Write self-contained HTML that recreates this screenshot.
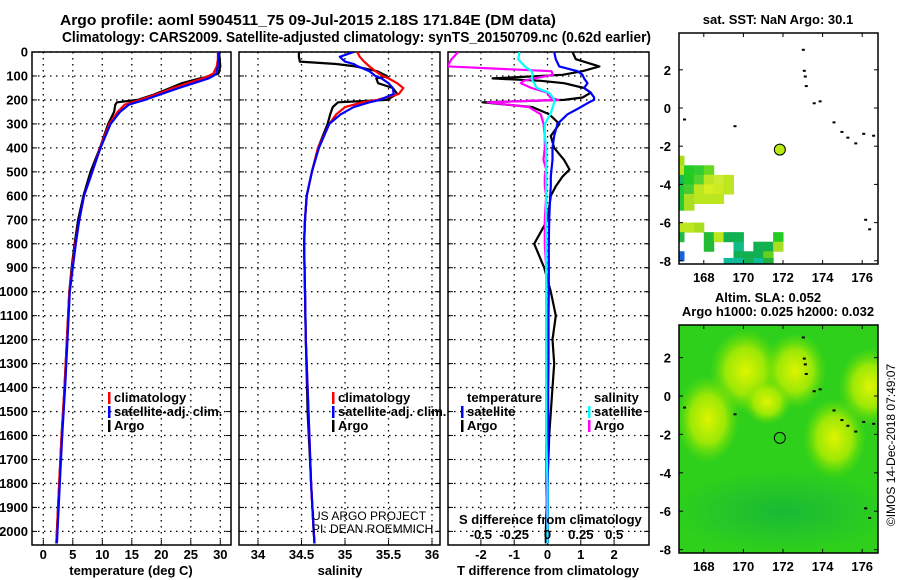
<!DOCTYPE html>
<html><head><meta charset="utf-8"><style>
body{margin:0;background:#fff}
svg{display:block;font-family:"Liberation Sans",sans-serif}
.b{font-weight:bold;font-size:13px}
.n{font-weight:normal;font-size:12px}
</style></head><body>
<svg id="s" width="900" height="580" viewBox="0 0 900 580">
<defs>
<clipPath id="c1"><rect x="32" y="52" width="199" height="493"/></clipPath>
<clipPath id="c2"><rect x="239" y="52" width="201" height="493"/></clipPath>
<clipPath id="c3"><rect x="448" y="52" width="201" height="493"/></clipPath>
<clipPath id="cm1"><rect x="679" y="33" width="199" height="231"/></clipPath>
<clipPath id="cm2"><rect x="679" y="325" width="199" height="228"/></clipPath>
<radialGradient id="blob"><stop offset="0" stop-color="#e0f400" stop-opacity="1"/><stop offset="0.55" stop-color="#b8ee00" stop-opacity="0.8"/><stop offset="1" stop-color="#70e000" stop-opacity="0"/></radialGradient>
<radialGradient id="dark"><stop offset="0" stop-color="#10b040" stop-opacity="0.7"/><stop offset="1" stop-color="#10b040" stop-opacity="0"/></radialGradient>
</defs>
<text class="b" x="60" y="25" style="font-size:15px" textLength="496" lengthAdjust="spacingAndGlyphs">Argo profile: aoml 5904511_75 09-Jul-2015 2.18S 171.84E (DM data)</text>
<text class="b" x="62" y="42" style="font-size:15px" textLength="589" lengthAdjust="spacingAndGlyphs">Climatology: CARS2009. Satellite-adjusted climatology: synTS_20150709.nc (0.62d earlier)</text>
<g id="g"></g>
</svg>
<script>
// ---- data ----
const depthT = [0,30,60,90,100,110,130,150,180,200,210,220,250,300,400,500,600,700,800,900,1000,1200,1400,1600,1800,2000,2050];
const tempArgo = [29.8,29.9,30.0,29.7,28.5,26.5,23.5,21.5,18.5,16,12.5,12.2,12,11,9.6,8.0,6.8,5.9,5.3,4.8,4.4,4.0,3.6,3.1,2.7,2.3,2.2];
const tempClim = [29.6,29.6,29.4,28.8,28.0,27,24.5,22,18.8,16.4,15,13.8,12.6,11.2,9.6,8.3,6.9,6.1,5.4,4.9,4.4,4.0,3.6,3.1,2.7,2.3,2.2];
const tempSat = [29.7,29.7,29.6,29.3,28.8,28,25.5,23,19.5,17.2,15.8,14.5,13,11.4,9.7,8.3,6.9,6.1,5.5,5.0,4.5,4.1,3.7,3.2,2.8,2.4,2.3];
const depthS = [0,20,40,50,60,80,100,110,130,150,175,200,210,230,260,300,400,500,600,700,800,1000,1200,1500,1800,2000,2050];
const salArgo = [34.47,34.47,34.48,34.9,35.12,35.37,35.48,35.36,35.38,35.55,35.6,35.48,34.92,34.86,34.83,34.8,34.69,34.62,34.56,34.54,34.53,34.54,34.55,34.57,34.61,34.64,34.65];
const salClim = [35.14,35.17,35.22,35.25,35.28,35.35,35.43,35.5,35.6,35.67,35.62,35.37,35.2,35.0,34.9,34.82,34.69,34.62,34.56,34.54,34.53,34.54,34.55,34.58,34.61,34.64,34.65];
const salSat = [35.1,34.94,35.0,35.1,35.15,35.28,35.35,35.42,35.5,35.55,35.56,35.4,35.28,35.1,34.95,34.82,34.7,34.62,34.56,34.54,34.53,34.54,34.55,34.58,34.61,34.64,34.65];
const depthD = [0,30,60,80,95,110,120,130,150,170,190,200,210,230,260,300,350,400,450,490,520,560,600,700,800,900,1000,1100,1200,1300,1400,1600,1800,2000,2050];
const dTArgo = [0.75,0.85,1.56,1.05,0.45,-1.65,-0.2,0.5,1.1,1.3,1.05,0.5,-1.95,-0.45,0.05,0.36,0.1,0.2,0.5,0.66,0.45,0.25,0.1,0,-0.4,-0.1,0.1,0.25,0.15,0.2,0.15,0.05,0,-0.05,-0.05];
const dTSat = [0.2,0.25,0.35,0.9,1.05,1.1,1.15,1.2,1.1,1.3,1.4,1.4,1.25,1.0,0.6,0.3,0.2,0.15,0.15,0.12,0.1,0.1,0.08,0.05,0.04,0.04,0.04,0.03,0.03,0.03,0.02,0.02,0.01,0.01,0.01];
const dSArgo = [-0.67,-0.72,-0.75,0.03,0.04,-0.1,-0.18,-0.2,-0.12,0.0,0.02,0.08,-0.45,-0.14,-0.05,-0.03,-0.02,-0.02,-0.03,-0.01,-0.02,-0.02,-0.01,-0.02,-0.02,-0.01,-0.01,-0.01,-0.01,-0.01,-0.01,-0.01,-0.01,0,0];
const dSSat = [-0.21,-0.22,-0.17,-0.12,-0.11,-0.12,-0.11,-0.1,-0.08,0.01,0.04,0.05,0.05,0.04,0.02,-0.02,-0.02,-0.01,-0.01,-0.01,-0.01,-0.01,-0.01,-0.01,-0.01,-0.01,-0.01,-0.01,-0.01,-0.01,-0.01,-0.01,0,0,0];
const depthTicks = [0,100,200,300,400,500,600,700,800,900,1000,1100,1200,1300,1400,1500,1600,1700,1800,1900,2000];
const tempTicks = [0,5,10,15,20,25,30];
const salTicks = [34,34.5,35,35.5,36];
const dTTicks = [-2,-1,0,1,2];
const dSTicks = [-0.5,-0.25,0,0.25,0.5];
const lonTicks = [168,170,172,174,176];
const latTicks = [2,0,-2,-4,-6,-8];
const argoLon = 171.84, argoLat = -2.18;
const sstLon = [166.75,166.75,167.25,167.75,168.25,166.75,167.25,167.75,168.25,168.75,169.25,166.75,167.25,167.75,168.25,168.75,169.25,166.75,167.25,167.75,168.25,168.75,166.75,167.25,166.75,167.25,167.75,166.75,168.25,168.75,169.25,169.75,171.75,168.25,169.75,170.75,171.25,171.75,166.75,169.75,170.25,170.75,171.25,169.25,169.75,170.25,170.75,171.25];
const sstLat = [-2.75,-3.25,-3.25,-3.25,-3.25,-3.75,-3.75,-3.75,-3.75,-3.75,-3.75,-4.25,-4.25,-4.25,-4.25,-4.25,-4.25,-4.75,-4.75,-4.75,-4.75,-4.75,-5.1,-5.1,-6.25,-6.25,-6.25,-6.75,-6.75,-6.75,-6.75,-6.75,-6.75,-7.25,-7.25,-7.25,-7.25,-7.25,-7.75,-7.75,-7.75,-7.75,-7.75,-8.1,-8.1,-8.1,-8.1,-8.1];
const sstCol = ["#aade10","#bde620","#22cc22","#33cc33","#66d820","#18b860","#22cc22","#55d430","#bbe620","#ccea30","#bbe620","#22cc33","#44cc33","#bbe620","#d8ee20","#ccea20","#bbe620","#22cc33","#aade20","#bbe620","#bbe620","#bbe620","#22cc33","#aade20","#bbe620","#bbe620","#aade20","#22bb44","#22bb33","#bbe620","#11b050","#11b050","#22cc22","#22bb33","#11bb88","#11b050","#11b050","#aade20","#1166dd","#11b050","#11b050","#11b050","#66d020","#11bb99","#11bb99","#11b050","#11bb99","#22b040"];
const blobLon = [170.1,168.2,172.6,174.6,176.4,171.2];
const blobLat = [1.3,-1.2,1.3,-2.2,0.5,-0.3];
const blobRx = [1.8,1.6,1.6,1.6,1.6,1.2];
const blobRy = [2.2,2.3,2.0,2.1,2.0,1.2];
const coastLon = [172.95,173.0,173.05,173.1,173.5,173.8,174.5,174.9,175.2,175.6,176.0,176.5,169.5,166.95,176.1,176.3,176.8];
const coastLat = [3.1,2.0,1.7,1.2,0.3,0.4,-0.7,-1.2,-1.5,-1.8,-1.3,-1.4,-0.9,-0.55,-5.8,-6.3,-2.6];

// ---- scales ----
const Y = d => 52 + d*0.2397;
const XT = t => 43.3 + t*5.9;
const XS = s => 258 + (s-34)*87;
const XD = t => 547.5 + t*33.3;
const XDS = s => 547.5 + s*133.3;
const LX = lon => 783 + (lon-172)*19.8;
const LY1 = lat => 108 - lat*19.1;
const LY2 = lat => 396 - lat*19.2;

const NS = "http://www.w3.org/2000/svg";
const G = document.getElementById('g');
function mk(tag, attrs, parent){ const e=document.createElementNS(NS,tag); for(const k in attrs) e.setAttribute(k,attrs[k]); (parent||G).appendChild(e); return e; }
function txt(x,y,s,anchor,cls){ const e=mk('text',{x:x,y:y,'text-anchor':anchor||'start','class':cls||'b'}); e.textContent=s; return e; }

function panel(x0,x1,xs,xticks,clip,name){
  const grp=mk('g',{});
  
  
  for(const d of depthTicks){ const l=mk('line',{x1:x0,x2:x1,y1:Y(d),y2:Y(d),stroke:'#000','stroke-dasharray':'1.5,4.5','stroke-width':1.3},grp);
    
    
    const t1=mk('line',{x1:x0,x2:x0+5,y1:Y(d),y2:Y(d),stroke:'#000'},grp);
    
    
    const t2=mk('line',{x1:x1-5,x2:x1,y1:Y(d),y2:Y(d),stroke:'#000'},grp);
    
    
  }
  for(const v of xticks){ const x=xs(v); const l=mk('line',{x1:x,x2:x,y1:52,y2:545,stroke:'#000','stroke-dasharray':'1.5,4.5','stroke-width':1.3},grp);
    
    
    const t=mk('line',{x1:x,x2:x,y1:540,y2:545,stroke:'#000'},grp);
    
    
    const lab=txt(x,559,String(v),'middle');
    
    
  }
  const r=mk('rect',{x:x0,y:52,width:x1-x0,height:493,fill:'none',stroke:'#000','stroke-width':1.5},grp);
  
  
}
function line(xs,xvals,depths,col,clip,name,w){
  const pts=xvals.map((v,i)=>xs(v).toFixed(1)+','+Y(depths[i]).toFixed(1)).join(' ');
  const p=mk('polyline',{points:pts,fill:'none',stroke:col,'stroke-width':w||2.2,'clip-path':'url(#'+clip+')','stroke-linejoin':'round'});
  
  
}
panel(32,231,XT,tempTicks,'c1','temperature-panel');
panel(239,440,XS,salTicks,'c2','salinity-panel');
panel(448,649,XD,dTTicks,'c3','difference-panel');
for(const d of depthTicks){ const l=txt(28,Y(d)+4.5,String(d),'end');
  
  
}
line(XT,tempArgo,depthT,'#000','c1','temp-argo-line');
line(XT,tempClim,depthT,'#f00','c1','temp-climatology-line');
line(XT,tempSat,depthT,'#00f','c1','temp-satellite-line');
line(XS,salArgo,depthS,'#000','c2','sal-argo-line');
line(XS,salClim,depthS,'#f00','c2','sal-climatology-line');
line(XS,salSat,depthS,'#00f','c2','sal-satellite-line');
line(XD,dTArgo,depthD,'#000','c3','tdiff-argo-line');
line(XD,dTSat,depthD,'#00f','c3','tdiff-satellite-line');
line(XDS,dSArgo,depthD,'#f0f','c3','sdiff-argo-line');
line(XDS,dSSat,depthD,'#0ff','c3','sdiff-satellite-line');

function legend(x,y,col,label,name){
  if(col){ const b=mk('rect',{x:x,y:y-10,width:2.5,height:12,fill:col});
    
     }
  const t=txt(x+6,y,label);
  
  
}
legend(108,402,'#f00','climatology','legend-climatology');
legend(108,416,'#00f','satellite-adj. clim.','legend-satellite-adj');
legend(108,430,'#000','Argo','legend-argo');
legend(332,402,'#f00','climatology','legend-climatology-2');
legend(332,416,'#00f','satellite-adj. clim.','legend-satellite-adj-2');
legend(332,430,'#000','Argo','legend-argo-2');
legend(461,402,null,'temperature','legend-temperature-header');
legend(461,416,'#00f','satellite','legend-t-satellite');
legend(461,430,'#000','Argo','legend-t-argo');
legend(588,402,null,'salinity','legend-salinity-header');
legend(588,416,'#0ff','satellite','legend-s-satellite');
legend(588,430,'#f0f','Argo','legend-s-argo');

let e;
e=txt(312,520,'US ARGO PROJECT','start','n');


e=txt(312,533,'PI: DEAN ROEMMICH','start','n');


e=txt(459,524,'S difference from climatology');


for(const v of dSTicks){ e=txt(XDS(v),539,(v===0?'0':String(v)),'middle');
  
   }
e=txt(131,575,'temperature (deg C)','middle');


e=txt(340,575,'salinity','middle');


e=txt(548,575,'T difference from climatology','middle');



// ---- maps ----
function mapFrame(y0,y1,LY,name){
  for(const v of lonTicks){ const x=LX(v);
    let t=mk('line',{x1:x,x2:x,y1:y1-4,y2:y1,stroke:'#000'});  
    t=mk('line',{x1:x,x2:x,y1:y0,y2:y0+4,stroke:'#000'});  
    const l=txt(x,y1+18,String(v),'middle');
    
     }
  for(const v of latTicks){ const y=LY(v); if(y<y0||y>y1+2) continue;
    let t=mk('line',{x1:679,x2:683,y1:y,y2:y,stroke:'#000'});  
    t=mk('line',{x1:874,x2:878,y1:y,y2:y,stroke:'#000'});  
    const l=txt(671,y+5,String(v),'end');
    
     }
  const r=mk('rect',{x:679,y:y0,width:199,height:y1-y0,fill:'none',stroke:'#000','stroke-width':1.5});
  
  
}
e=mk('rect',{x:679,y:325,width:199,height:228,fill:'#2ed01c'});


const gb=mk('g',{'clip-path':'url(#cm2)'});
e=mk('ellipse',{cx:LX(172),cy:LY2(-6),rx:110,ry:40,fill:'url(#dark)'},gb);


for(let i=0;i<blobLon.length;i++){
  e=mk('ellipse',{cx:LX(blobLon[i]),cy:LY2(blobLat[i]),rx:blobRx[i]*19.8,ry:blobRy[i]*19.2,fill:'url(#blob)'},gb);
  
  
}
const gt=mk('g',{'clip-path':'url(#cm1)'});
for(let i=0;i<sstLon.length;i++){
  e=mk('rect',{x:LX(sstLon[i]-0.25),y:LY1(sstLat[i]+0.25),width:0.5*19.8+0.5,height:0.5*19.1+0.5,fill:sstCol[i]},gt);
  
  
}
for(const [LY,cl] of [[LY1,'cm1'],[LY2,'cm2']]){
  for(let i=0;i<coastLon.length;i++){
    e=mk('rect',{x:LX(coastLon[i]),y:LY(coastLat[i]),width:3,height:2,fill:'#000','clip-path':'url(#'+cl+')'});
    
    
  }
}
e=mk('circle',{cx:LX(argoLon),cy:LY1(argoLat),r:5.5,fill:'#b8ea10',stroke:'#000'});


e=mk('circle',{cx:LX(argoLon),cy:LY2(argoLat),r:5.5,fill:'none',stroke:'#000'});


mapFrame(33,264,LY1,'sst-map');
mapFrame(325,553,LY2,'sla-map');
e=txt(778,24,'sat. SST: NaN Argo: 30.1','middle');


e=txt(768,302,'Altim. SLA: 0.052','middle');


e=txt(778,316,'Argo h1000: 0.025 h2000: 0.032','middle');


e=txt(0,0,'©IMOS 14-Dec-2018 07:49:07','middle','n');
e.setAttribute('transform','translate(895,445) rotate(-90)');


</script>
</body></html>
